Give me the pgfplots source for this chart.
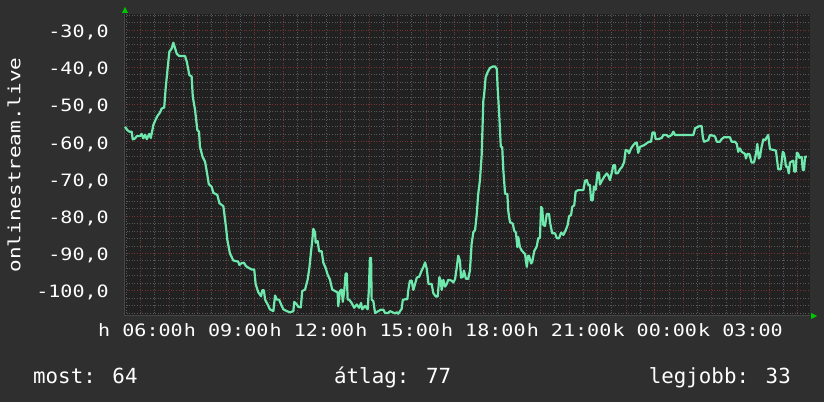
\documentclass[border=0pt]{standalone}
\usepackage{pgfplots}
\pgfplotsset{compat=1.18}
\usepackage{fontspec}
\newfontfamily\tickfont[FakeStretch=1.18]{DejaVu Sans Mono}
\newfontfamily\labfont[FakeStretch=1.25]{DejaVu Sans Mono}
\newfontfamily\legfont{DejaVu Sans Mono}
\definecolor{outerbg}{RGB}{47,47,47}
\definecolor{plotbg}{RGB}{33,33,33}
\definecolor{linecol}{RGB}{110,232,172}
\definecolor{majgrid}{RGB}{120,50,50}
\definecolor{mingrid}{RGB}{88,88,88}
\definecolor{axgrey}{RGB}{70,70,70}
\definecolor{arrowgreen}{RGB}{0,200,0}
\begin{document}
\begin{tikzpicture}
\fill[outerbg] (0,0) rectangle (824bp,402bp);
\begin{axis}[
  at={(124bp,86bp)}, anchor=south west,
  scale only axis, width=686bp, height=302bp,
  xmin=5.4225, xmax=29.4325, ymin=-106.8, ymax=-25.7,
  axis background/.style={fill=plotbg},
  axis lines*=left,
  axis line style={draw=axgrey, line width=1bp},
  xtick={6,7,...,29},
  xticklabels={h 06:00,{},{},h 09:00,{},{},h 12:00,{},{},h 15:00,{},{},h 18:00,{},{},h 21:00,{},{},k 00:00,{},{},k 03:00,{},{}},
  minor xtick={5.5,6,...,29},
  ytick={-100,-90,...,-30},
  yticklabels={{-100,0},{-90,0},{-80,0},{-70,0},{-60,0},{-50,0},{-40,0},{-30,0}},
  minor ytick={-106,-104,...,-26},
  grid=both,
  major grid style={draw=majgrid, line width=0.9bp, dash pattern=on 1bp off 1.6bp},
  minor grid style={draw=mingrid, line width=0.9bp, dash pattern=on 1bp off 1.6bp},
  major tick length=0pt, minor tick length=0pt,
  tick label style={font=\tickfont\fontsize{17bp}{17bp}\selectfont, text=white, inner sep=0pt},
  yticklabel style={anchor=base east, xshift=-15bp, yshift=-7.3bp},
  xticklabel style={anchor=base, yshift=-21bp},
  ylabel={onlinestream.live},
  ylabel style={font=\labfont\fontsize{16.8bp}{16.8bp}\selectfont, text=white, at={(axis description cs:-0.1603,0.5)}, anchor=center, rotate=0},
  clip=true,
]
\addplot[linecol, line width=2.2bp, line join=round] table {
5.46 -56.0
5.54 -56.9
5.61 -57.3
5.69 -57.3
5.73 -59.4
5.81 -59.1
5.87 -58.5
5.98 -58.5
6.04 -57.9
6.10 -59.1
6.16 -58.1
6.22 -59.3
6.31 -57.9
6.36 -59.0
6.39 -57.9
6.45 -55.5
6.51 -54.4
6.59 -53.1
6.68 -52.2
6.74 -51.1
6.83 -50.8
6.88 -45.7
6.95 -40.3
7.01 -35.8
7.09 -35.0
7.15 -33.4
7.21 -34.9
7.27 -36.4
7.36 -37.0
7.56 -37.0
7.62 -38.5
7.71 -42.1
7.79 -42.5
7.83 -47.9
7.91 -51.5
7.99 -56.9
8.05 -57.3
8.08 -61.3
8.17 -64.0
8.26 -65.4
8.32 -68.0
8.39 -71.4
8.49 -72.1
8.55 -73.7
8.69 -74.3
8.76 -76.5
8.90 -77.3
8.99 -82.8
9.04 -86.4
9.13 -90.0
9.25 -91.9
9.42 -92.2
9.46 -93.1
9.54 -92.6
9.62 -92.5
9.69 -93.4
9.77 -93.8
9.89 -94.3
9.98 -94.3
10.03 -98.2
10.12 -100.4
10.22 -101.5
10.26 -99.9
10.32 -99.9
10.36 -102.4
10.45 -103.7
10.53 -105.0
10.65 -105.5
10.71 -101.3
10.77 -102.4
10.85 -102.4
10.92 -103.7
11.00 -105.0
11.12 -105.5
11.23 -105.8
11.35 -105.5
11.38 -103.0
11.47 -103.7
11.52 -104.3
11.61 -104.5
11.66 -100.1
11.76 -99.7
11.85 -97.0
11.91 -93.9
11.97 -89.4
12.01 -86.7
12.05 -83.4
12.11 -84.4
12.13 -87.1
12.20 -86.7
12.25 -89.4
12.34 -89.4
12.40 -92.5
12.48 -93.9
12.55 -95.7
12.63 -97.0
12.71 -99.7
12.81 -100.1
12.90 -100.5
12.92 -104.2
12.98 -100.1
13.04 -99.7
13.08 -103.0
13.13 -100.1
13.18 -95.4
13.22 -95.4
13.25 -102.4
13.30 -102.4
13.39 -103.3
13.48 -104.6
13.57 -103.7
13.65 -104.6
13.72 -103.3
13.76 -105.0
13.86 -104.1
13.95 -105.0
13.99 -100.1
14.03 -91.2
14.07 -91.2
14.09 -102.4
14.15 -102.8
14.21 -106.0
14.32 -105.5
14.42 -105.1
14.50 -105.1
14.56 -106.0
14.67 -106.0
14.73 -105.5
14.91 -106.1
14.97 -105.8
15.02 -106.2
15.14 -104.9
15.18 -102.5
15.26 -102.3
15.34 -102.3
15.37 -100.0
15.43 -97.3
15.49 -97.3
15.55 -99.8
15.61 -98.2
15.67 -96.5
15.76 -96.2
15.84 -94.6
15.90 -93.7
15.96 -92.4
16.02 -94.2
16.08 -98.2
16.19 -98.2
16.25 -100.7
16.34 -101.6
16.40 -101.6
16.46 -96.4
16.51 -97.3
16.54 -99.8
16.60 -97.1
16.66 -98.9
16.72 -98.2
16.77 -97.1
16.89 -97.3
16.95 -97.8
17.01 -96.9
17.07 -93.7
17.12 -90.6
17.18 -91.9
17.22 -96.5
17.28 -96.3
17.32 -94.6
17.39 -96.8
17.47 -96.8
17.53 -94.6
17.59 -87.4
17.65 -84.3
17.71 -83.7
17.77 -79.4
17.82 -74.0
17.88 -70.4
17.94 -63.7
18.00 -48.9
18.03 -47.1
18.08 -42.7
18.15 -41.3
18.23 -40.2
18.33 -39.8
18.41 -39.8
18.47 -40.4
18.50 -45.4
18.56 -53.4
18.61 -61.3
18.66 -61.5
18.70 -67.7
18.76 -74.0
18.84 -74.0
18.87 -78.5
18.93 -81.6
19.03 -82.0
19.08 -83.9
19.14 -84.4
19.19 -88.3
19.22 -85.6
19.28 -88.3
19.34 -89.2
19.46 -90.2
19.52 -93.6
19.57 -90.6
19.60 -90.6
19.67 -92.7
19.71 -92.3
19.78 -89.4
19.87 -88.1
19.92 -85.9
19.98 -85.9
20.02 -77.5
20.06 -77.9
20.10 -82.4
20.16 -82.6
20.22 -79.4
20.30 -79.4
20.33 -81.5
20.41 -84.6
20.51 -84.6
20.57 -85.9
20.65 -85.9
20.72 -84.4
20.80 -85.0
20.88 -83.8
20.95 -82.4
21.00 -80.0
21.07 -79.7
21.11 -77.5
21.18 -77.1
21.23 -73.4
21.32 -73.0
21.44 -73.0
21.50 -73.0
21.56 -70.5
21.62 -70.3
21.67 -71.6
21.73 -71.6
21.77 -75.7
21.83 -75.7
21.87 -72.0
21.93 -72.9
22.00 -68.2
22.05 -68.4
22.08 -71.5
22.14 -70.6
22.23 -69.4
22.32 -68.5
22.36 -68.9
22.43 -70.3
22.49 -68.5
22.55 -66.3
22.61 -66.3
22.63 -68.5
22.70 -68.5
22.78 -67.4
22.86 -66.7
22.93 -65.4
22.98 -62.2
23.05 -62.4
23.10 -63.1
23.17 -61.8
23.25 -60.9
23.31 -60.4
23.37 -60.2
23.42 -63.0
23.48 -61.4
23.57 -61.1
23.63 -60.9
23.72 -60.4
23.80 -60.0
23.87 -60.0
23.92 -57.5
23.99 -57.5
24.03 -59.3
24.12 -59.3
24.24 -59.0
24.30 -58.2
24.42 -58.2
24.47 -58.7
24.59 -58.2
24.65 -57.3
24.71 -58.2
25.35 -58.2
25.41 -56.4
25.56 -55.8
25.64 -55.8
25.68 -58.7
25.72 -60.0
25.87 -59.6
25.93 -58.2
26.05 -58.4
26.11 -58.6
26.17 -60.0
26.28 -60.0
26.34 -59.3
26.42 -58.8
26.63 -58.8
26.69 -60.0
26.81 -60.0
26.87 -60.6
26.92 -62.7
26.98 -61.8
27.04 -62.7
27.16 -63.3
27.19 -64.5
27.24 -63.3
27.31 -63.3
27.39 -65.6
27.47 -65.6
27.54 -63.3
27.59 -60.6
27.64 -64.5
27.68 -64.1
27.74 -61.3
27.80 -59.4
27.86 -59.6
27.92 -58.8
27.97 -58.2
28.03 -62.0
28.15 -62.2
28.24 -62.4
28.32 -67.4
28.41 -67.4
28.48 -62.7
28.52 -63.1
28.56 -64.7
28.59 -66.7
28.64 -66.7
28.69 -68.5
28.73 -65.6
28.79 -65.3
28.85 -65.1
28.88 -68.0
28.93 -68.0
28.97 -63.0
29.02 -63.2
29.06 -64.3
29.14 -64.1
29.18 -67.6
29.22 -67.6
29.26 -64.0
29.32 -64.0
};
\end{axis}
\fill[arrowgreen] (122bp,389bp) -- (128bp,389bp) -- (125bp,395bp) -- cycle;
\fill[arrowgreen] (811bp,83bp) -- (811bp,89bp) -- (817bp,86bp) -- cycle;
\node[anchor=base west, inner sep=0pt, text=white, font=\legfont\fontsize{20.8bp}{20.8bp}\selectfont] at (33bp,19bp) {most: 64};
\node[anchor=base west, inner sep=0pt, text=white, font=\legfont\fontsize{20.8bp}{20.8bp}\selectfont] at (334bp,19bp) {átlag: 77};
\node[anchor=base east, inner sep=0pt, text=white, font=\legfont\fontsize{20.8bp}{20.8bp}\selectfont] at (791bp,19bp) {legjobb: 33};
\end{tikzpicture}
\end{document}
